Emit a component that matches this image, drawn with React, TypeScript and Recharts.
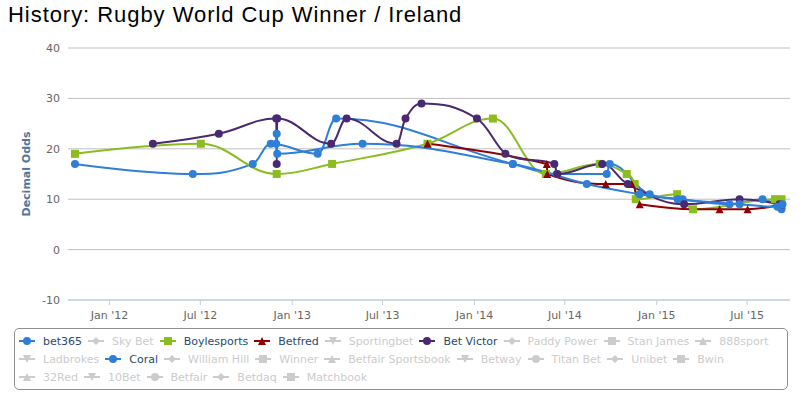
import React from 'react';
import { LineChart, Line, XAxis, YAxis, CartesianGrid, Legend } from 'recharts';

const TITLE = 'History: Rugby World Cup Winner / Ireland';
const Y_TITLE = 'Decimal Odds';
const yTicks = [-10, 0, 10, 20, 30, 40];
const xTickDates = ['2012-01-01', '2012-07-01', '2013-01-01', '2013-07-01', '2014-01-01', '2014-07-01', '2015-01-01', '2015-07-01'];
const monthNames = ['Jan', 'Feb', 'Mar', 'Apr', 'May', 'Jun', 'Jul', 'Aug', 'Sep', 'Oct', 'Nov', 'Dec'];
const xDomainDates = ['2011-10-10', '2015-09-25'];

const bet365: [string, number][] = [
  ['2011-10-24', 17], ['2012-06-16', 15], ['2012-10-14', 17], ['2012-11-19', 21],
  ['2013-02-21', 19], ['2013-03-30', 26], ['2014-03-19', 17], ['2014-06-15', 15],
  ['2014-09-23', 15], ['2014-09-29', 17], ['2014-12-18', 11], ['2015-02-22', 10],
  ['2015-05-27', 9], ['2015-08-01', 10], ['2015-09-08', 8],
];
const boylesports: [string, number][] = [
  ['2011-10-24', 19], ['2012-07-02', 21], ['2012-12-01', 15], ['2013-03-22', 17],
  ['2013-09-29', 21], ['2014-02-07', 26], ['2014-05-24', 15], ['2014-09-09', 17],
  ['2014-11-02', 15], ['2014-11-18', 13], ['2014-11-20', 10], ['2015-02-11', 11],
  ['2015-03-15', 8], ['2015-08-26', 10], ['2015-09-08', 10],
];
const betfred: [string, number][] = [
  ['2013-09-29', 21], ['2014-05-26', 17], ['2014-05-27', 15], ['2014-09-21', 13],
  ['2014-11-12', 13], ['2014-11-28', 9], ['2015-05-07', 8], ['2015-07-02', 8],
  ['2015-09-08', 9],
];
const betVictor: [string, number][] = [
  ['2012-03-28', 21], ['2012-08-07', 23], ['2012-11-30', 26], ['2012-12-01', 17],
  ['2012-12-02', 26], ['2013-03-20', 21], ['2013-04-20', 26], ['2013-07-29', 21],
  ['2013-08-16', 26], ['2013-09-17', 29], ['2014-01-06', 26], ['2014-03-04', 19],
  ['2014-06-10', 17], ['2014-06-16', 15], ['2014-09-14', 17], ['2014-11-04', 13],
  ['2015-02-25', 9], ['2015-06-16', 10], ['2015-09-04', 9],
];
const coral: [string, number][] = [
  ['2012-11-30', 21], ['2012-12-01', 23], ['2012-12-02', 19], ['2013-05-22', 21],
  ['2014-03-19', 17], ['2014-08-14', 13], ['2014-11-28', 11], ['2015-02-12', 10],
  ['2015-06-16', 9], ['2015-08-31', 8.5], ['2015-09-10', 9],
];

const bookmakerNames = [
  'bet365', 'Sky Bet', 'Boylesports', 'Betfred', 'Sportingbet', 'Bet Victor', 'Paddy Power', 'Stan James', '888sport',
  'Ladbrokes', 'Coral', 'William Hill', 'Winner', 'Betfair Sportsbook', 'Betway', 'Titan Bet', 'Unibet', 'Bwin',
  '32Red', '10Bet', 'Betfair', 'Betdaq', 'Matchbook',
];
const seriesData: Record<string, [string, number][]> = {
  bet365, Boylesports: boylesports, Betfred: betfred, 'Bet Victor': betVictor, Coral: coral,
};
const palette = ['#2f7ed8', '#0d233a', '#8bbc21', '#910000', '#1aadce', '#492970', '#f28f43', '#77a1e5', '#c42525', '#a6c96a'];
const symbols = ['circle', 'diamond', 'square', 'triangle', 'triangle-down'];

const ts = (s: string) => Date.parse(s + 'T00:00:00Z');

const series = bookmakerNames.map((name, i) => ({
  name,
  color: palette[i % palette.length],
  symbol: symbols[i % symbols.length],
  data: seriesData[name] ? seriesData[name].map(([d, v]) => ({ t: ts(d), v })) : null,
}));

function hcSpline(context: any) {
  let pts: [number, number][] = [];
  return {
    areaStart() {},
    areaEnd() {},
    lineStart() { pts = []; },
    point(x: number, y: number) { pts.push([+x, +y]); },
    lineEnd() {
      const n = pts.length;
      if (!n) return;
      context.moveTo(pts[0][0], pts[0][1]);
      const sm = 1.5, den = 2.5;
      let rc: [number, number] | null = null;
      for (let i = 1; i < n; i++) {
        const [px, py] = pts[i];
        const [lx, ly] = pts[i - 1];
        let lcx = px, lcy = py;
        let newRc: [number, number] | null = null;
        if (i < n - 1) {
          const [nx, ny] = pts[i + 1];
          lcx = (sm * px + lx) / den; lcy = (sm * py + ly) / den;
          let rcx = (sm * px + nx) / den; let rcy = (sm * py + ny) / den;
          let corr = 0;
          if (rcx !== lcx) corr = ((rcy - lcy) * (rcx - px)) / (rcx - lcx) + py - rcy;
          lcy += corr; rcy += corr;
          if (lcy > ly && lcy > py) { lcy = Math.max(ly, py); rcy = 2 * py - lcy; }
          else if (lcy < ly && lcy < py) { lcy = Math.min(ly, py); rcy = 2 * py - lcy; }
          if (rcy > ny && rcy > py) { rcy = Math.max(ny, py); lcy = 2 * py - rcy; }
          else if (rcy < ny && rcy < py) { rcy = Math.min(ny, py); lcy = 2 * py - rcy; }
          newRc = [rcx, rcy];
        }
        const c1 = rc ?? [lx, ly];
        context.bezierCurveTo(c1[0], c1[1], lcx, lcy, px, py);
        rc = newRc;
      }
    },
  };
}

function Marker({ shape, color, x, y, r = 4 }: { shape: string; color: string; x: number; y: number; r?: number }) {
  if (shape === 'circle') return <circle cx={x} cy={y} r={r} fill={color} />;
  if (shape === 'square') return <rect x={x - r} y={y - r} width={2 * r} height={2 * r} fill={color} />;
  let d = '';
  if (shape === 'triangle') d = `M${x},${y - r}L${x + r},${y + r}L${x - r},${y + r}Z`;
  else if (shape === 'triangle-down') d = `M${x - r},${y - r}L${x + r},${y - r}L${x},${y + r}Z`;
  else d = `M${x},${y - r}L${x + r},${y}L${x},${y + r}L${x - r},${y}Z`;
  return <path d={d} fill={color} />;
}

const makeDot = (shape: string, color: string) => (props: any) => {
  const { cx, cy, index } = props;
  if (cx == null || cy == null || isNaN(cx) || isNaN(cy)) return <g key={`e${index}`} />;
  return <g key={`d${index}`}><Marker shape={shape} color={color} x={cx} y={cy} /></g>;
};

const fmtTick = (t: number) => {
  const d = new Date(t);
  return `${monthNames[d.getUTCMonth()]} '${String(d.getUTCFullYear()).slice(2)}`;
};

const LEGEND_PER_ROW = 9;

function LegendBox() {
  const rows: typeof series[] = [];
  for (let i = 0; i < series.length; i += LEGEND_PER_ROW) rows.push(series.slice(i, i + LEGEND_PER_ROW));
  return (
    <div style={{ boxSizing: 'border-box', height: 62, border: '1px solid #909090', borderRadius: 5, padding: '3px 0 0 4px', fontFamily: '"DejaVu Sans", Verdana, sans-serif', fontSize: 11 }}>
      {rows.map((row, ri) => (
        <div key={ri} style={{ display: 'flex', height: 18, alignItems: 'center', whiteSpace: 'nowrap' }}>
          {row.map((s) => {
            const on = !!s.data;
            const c = on ? s.color : '#cccccc';
            return (
              <div key={s.name} style={{ display: 'flex', alignItems: 'center', marginRight: 6 }}>
                <svg width={16} height={12} style={{ marginRight: 8, overflow: 'visible' }}>
                  <line x1={0} y1={6} x2={16} y2={6} stroke={c} strokeWidth={2} />
                  <Marker shape={s.symbol} color={c} x={8} y={6} />
                </svg>
                <span style={{ color: on ? '#274b6d' : '#cccccc' }}>{s.name}</span>
              </div>
            );
          })}
        </div>
      ))}
    </div>
  );
}

export default function App() {
  const visible = series.filter((s) => s.data);
  return (
    <div style={{ position: 'absolute', left: 0, top: 0, width: 803, height: 397, background: '#fff' }}>
      <div style={{ position: 'absolute', left: 8, top: 2, fontFamily: '"Liberation Sans", Arial, sans-serif', fontSize: 22, letterSpacing: 0.95, color: '#000', whiteSpace: 'nowrap', zIndex: 2 }}>
        {TITLE}
      </div>
      <LineChart width={803} height={397} margin={{ top: 48, right: 13, bottom: 7, left: 0 }}>
        <CartesianGrid horizontal vertical={false} stroke="#C0C0C0" />
        <XAxis
          dataKey="t"
          type="number"
          scale="time"
          domain={[ts(xDomainDates[0]), ts(xDomainDates[1])]}
          allowDataOverflow
          ticks={xTickDates.map(ts)}
          interval={0}
          tickFormatter={fmtTick}
          height={28}
          stroke="#C0D0E0"
          tickSize={5}
          tickMargin={6}
          tick={{ fill: '#666666', fontSize: 11, fontFamily: '"DejaVu Sans", Verdana, sans-serif' }}
        />
        <YAxis
          type="number"
          domain={[-10, 40]}
          ticks={yTicks}
          interval={0}
          width={68}
          axisLine={false}
          tickLine={false}
          tick={{ fill: '#666666', fontSize: 11, fontFamily: '"DejaVu Sans", Verdana, sans-serif' }}
          label={{
            content: () => (
              <text x={26} y={174} transform="rotate(-90 26 174)" textAnchor="middle" dominantBaseline="central" fill="#4d759e" fontWeight="bold" fontSize={11} fontFamily='"DejaVu Sans", Verdana, sans-serif'>
                {Y_TITLE}
              </text>
            ),
          }}
        />
        <Legend verticalAlign="bottom" wrapperStyle={{ left: 14, width: 774, bottom: 7 }} content={() => <LegendBox />} />
        {visible.map((s) => (
          <Line
            key={s.name}
            name={s.name}
            data={s.data as any}
            dataKey="v"
            type={hcSpline as any}
            stroke={s.color}
            strokeWidth={2}
            dot={makeDot(s.symbol, s.color)}
            activeDot={false}
            isAnimationActive={false}
          />
        ))}
      </LineChart>
    </div>
  );
}
